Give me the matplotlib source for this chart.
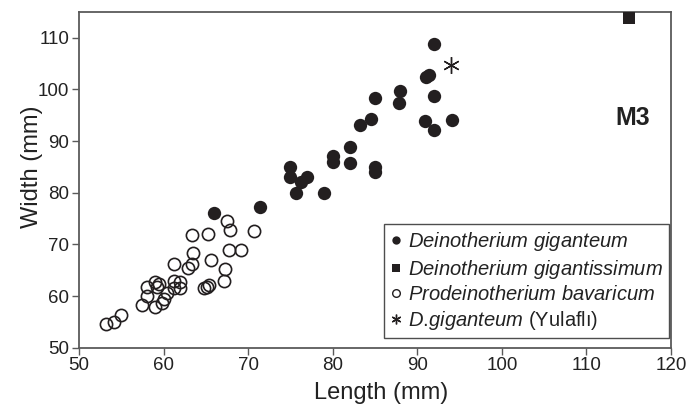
import matplotlib
matplotlib.use("Agg")
import matplotlib.pyplot as plt
from matplotlib.lines import Line2D

plt.rcParams['font.family'] = ['Liberation Sans', 'DejaVu Sans']
plt.rcParams['mathtext.fontset'] = 'custom'
plt.rcParams['mathtext.rm'] = 'Liberation Sans'
plt.rcParams['mathtext.it'] = 'Liberation Sans:italic'

# D. giganteum (filled circles)
gig_len = [66.0, 71.4, 75.0, 75.0, 77.0, 76.3, 75.7, 79.0, 80.0, 80.0, 82.0, 82.1,
           83.2, 84.5, 85.0, 85.0, 85.0, 88.0, 87.9, 91.0, 91.4, 92.0, 92.0, 90.9,
           92.0, 94.1]
gig_wid = [76.0, 77.3, 85.0, 83.0, 83.0, 82.0, 80.0, 80.0, 87.1, 86.0, 88.9, 85.7,
           93.2, 94.2, 98.3, 85.0, 84.0, 99.8, 97.4, 102.4, 102.8, 108.8, 98.8, 93.9,
           92.2, 94.0]
# D. gigantissimum (square)
gts_len = [115.0]
gts_wid = [113.8]
# Prodeinotherium bavaricum (open circles)
bav_len = [53.2, 54.1, 55.0, 57.5, 58.0, 58.0, 59.0, 59.2, 59.0, 59.8, 60.1, 60.4,
           59.5, 61.2, 61.2, 61.2, 62.0, 62.0, 62.9, 63.4, 63.5, 63.4, 65.2, 65.6,
           64.8, 65.1, 65.4, 67.5, 67.9, 67.7, 69.2, 67.3, 67.1, 70.7]
bav_wid = [54.5, 54.9, 56.3, 58.3, 60.1, 61.8, 62.8, 61.7, 57.8, 58.7, 59.5, 60.5,
           62.3, 66.2, 63.0, 61.5, 62.8, 61.5, 65.4, 66.3, 68.3, 71.9, 72.1, 67.0,
           61.5, 61.8, 62.2, 74.5, 72.8, 68.9, 68.9, 65.2, 63.0, 72.5]
# D. giganteum (Yulaflı)
yul_len = [94.0]
yul_wid = [104.8]

xticks = [50, 60, 70, 80, 90, 100, 110, 120]
yticks = [50, 60, 70, 80, 90, 100, 110]

dark = '#231f20'
spine_c = '#5a5a5a'
txt_c = '#222222'

fig = plt.figure(figsize=(6.91, 4.07), dpi=100)
ax = fig.add_axes([0.1143, 0.1457, 0.8567, 0.8248])

ax.plot(bav_len, bav_wid, linestyle='none', marker='o', ms=8.8, mfc='none',
        mec=dark, mew=1.2, zorder=3)
ax.plot(gig_len, gig_wid, linestyle='none', marker='o', ms=9.6, mfc=dark,
        mec=dark, mew=0, zorder=4)
ax.plot(gts_len, gts_wid, linestyle='none', marker='s', ms=8.8, mfc=dark,
        mec=dark, mew=0, zorder=4, clip_on=False)
ax.plot(yul_len, yul_wid, linestyle='none', marker=(6, 2, 0), ms=12, mfc=dark,
        mec=dark, mew=1.0, zorder=4)

ax.set_xlim(50, 120)
ax.set_ylim(50, 115)
ax.set_xticks(xticks)
ax.set_yticks(yticks)
ax.tick_params(axis='both', labelsize=13.5, length=5, width=1, color=spine_c,
               direction='out', pad=2, labelcolor=txt_c)
for s in ax.spines.values():
    s.set_color(spine_c)
    s.set_linewidth(1.3)

ax.set_xlabel('Length (mm)', fontsize=17, color=txt_c)
ax.set_ylabel('Width (mm)', fontsize=17, color=txt_c)
ax.xaxis.set_label_coords(0.51, -0.103)
ax.yaxis.set_label_coords(-0.06, 0.54)

ax.text(115.5, 94.5, 'M3', fontsize=18, fontweight='bold', ha='center', va='center',
        color=txt_c)

handles = [
    Line2D([], [], linestyle='none', marker='o', ms=6, mfc=dark, mec=dark, mew=0),
    Line2D([], [], linestyle='none', marker='s', ms=6, mfc=dark, mec=dark, mew=0),
    Line2D([], [], linestyle='none', marker='o', ms=5.5, mfc='none', mec=dark, mew=1),
    Line2D([], [], linestyle='none', marker=(6, 2, 0), ms=7, mfc=dark, mec=dark, mew=1),
]
labels = [r'$\it{Deinotherium\ giganteum}$',
          r'$\it{Deinotherium\ gigantissimum}$',
          r'$\it{Prodeinotherium\ bavaricum}$',
          r'$\it{D.\!giganteum}$ (Yulaflı)']
leg = ax.legend(handles, labels, loc='lower right', bbox_to_anchor=(0.9966, 0.029),
                borderaxespad=0, fontsize=14.5, frameon=True, fancybox=False,
                edgecolor=txt_c, handlelength=0.6, handletextpad=0.3,
                labelspacing=0.23, borderpad=0.3)
leg.get_frame().set_linewidth(1.0)
for t in leg.get_texts():
    t.set_color(txt_c)

fig.savefig('out.png', dpi=100)
